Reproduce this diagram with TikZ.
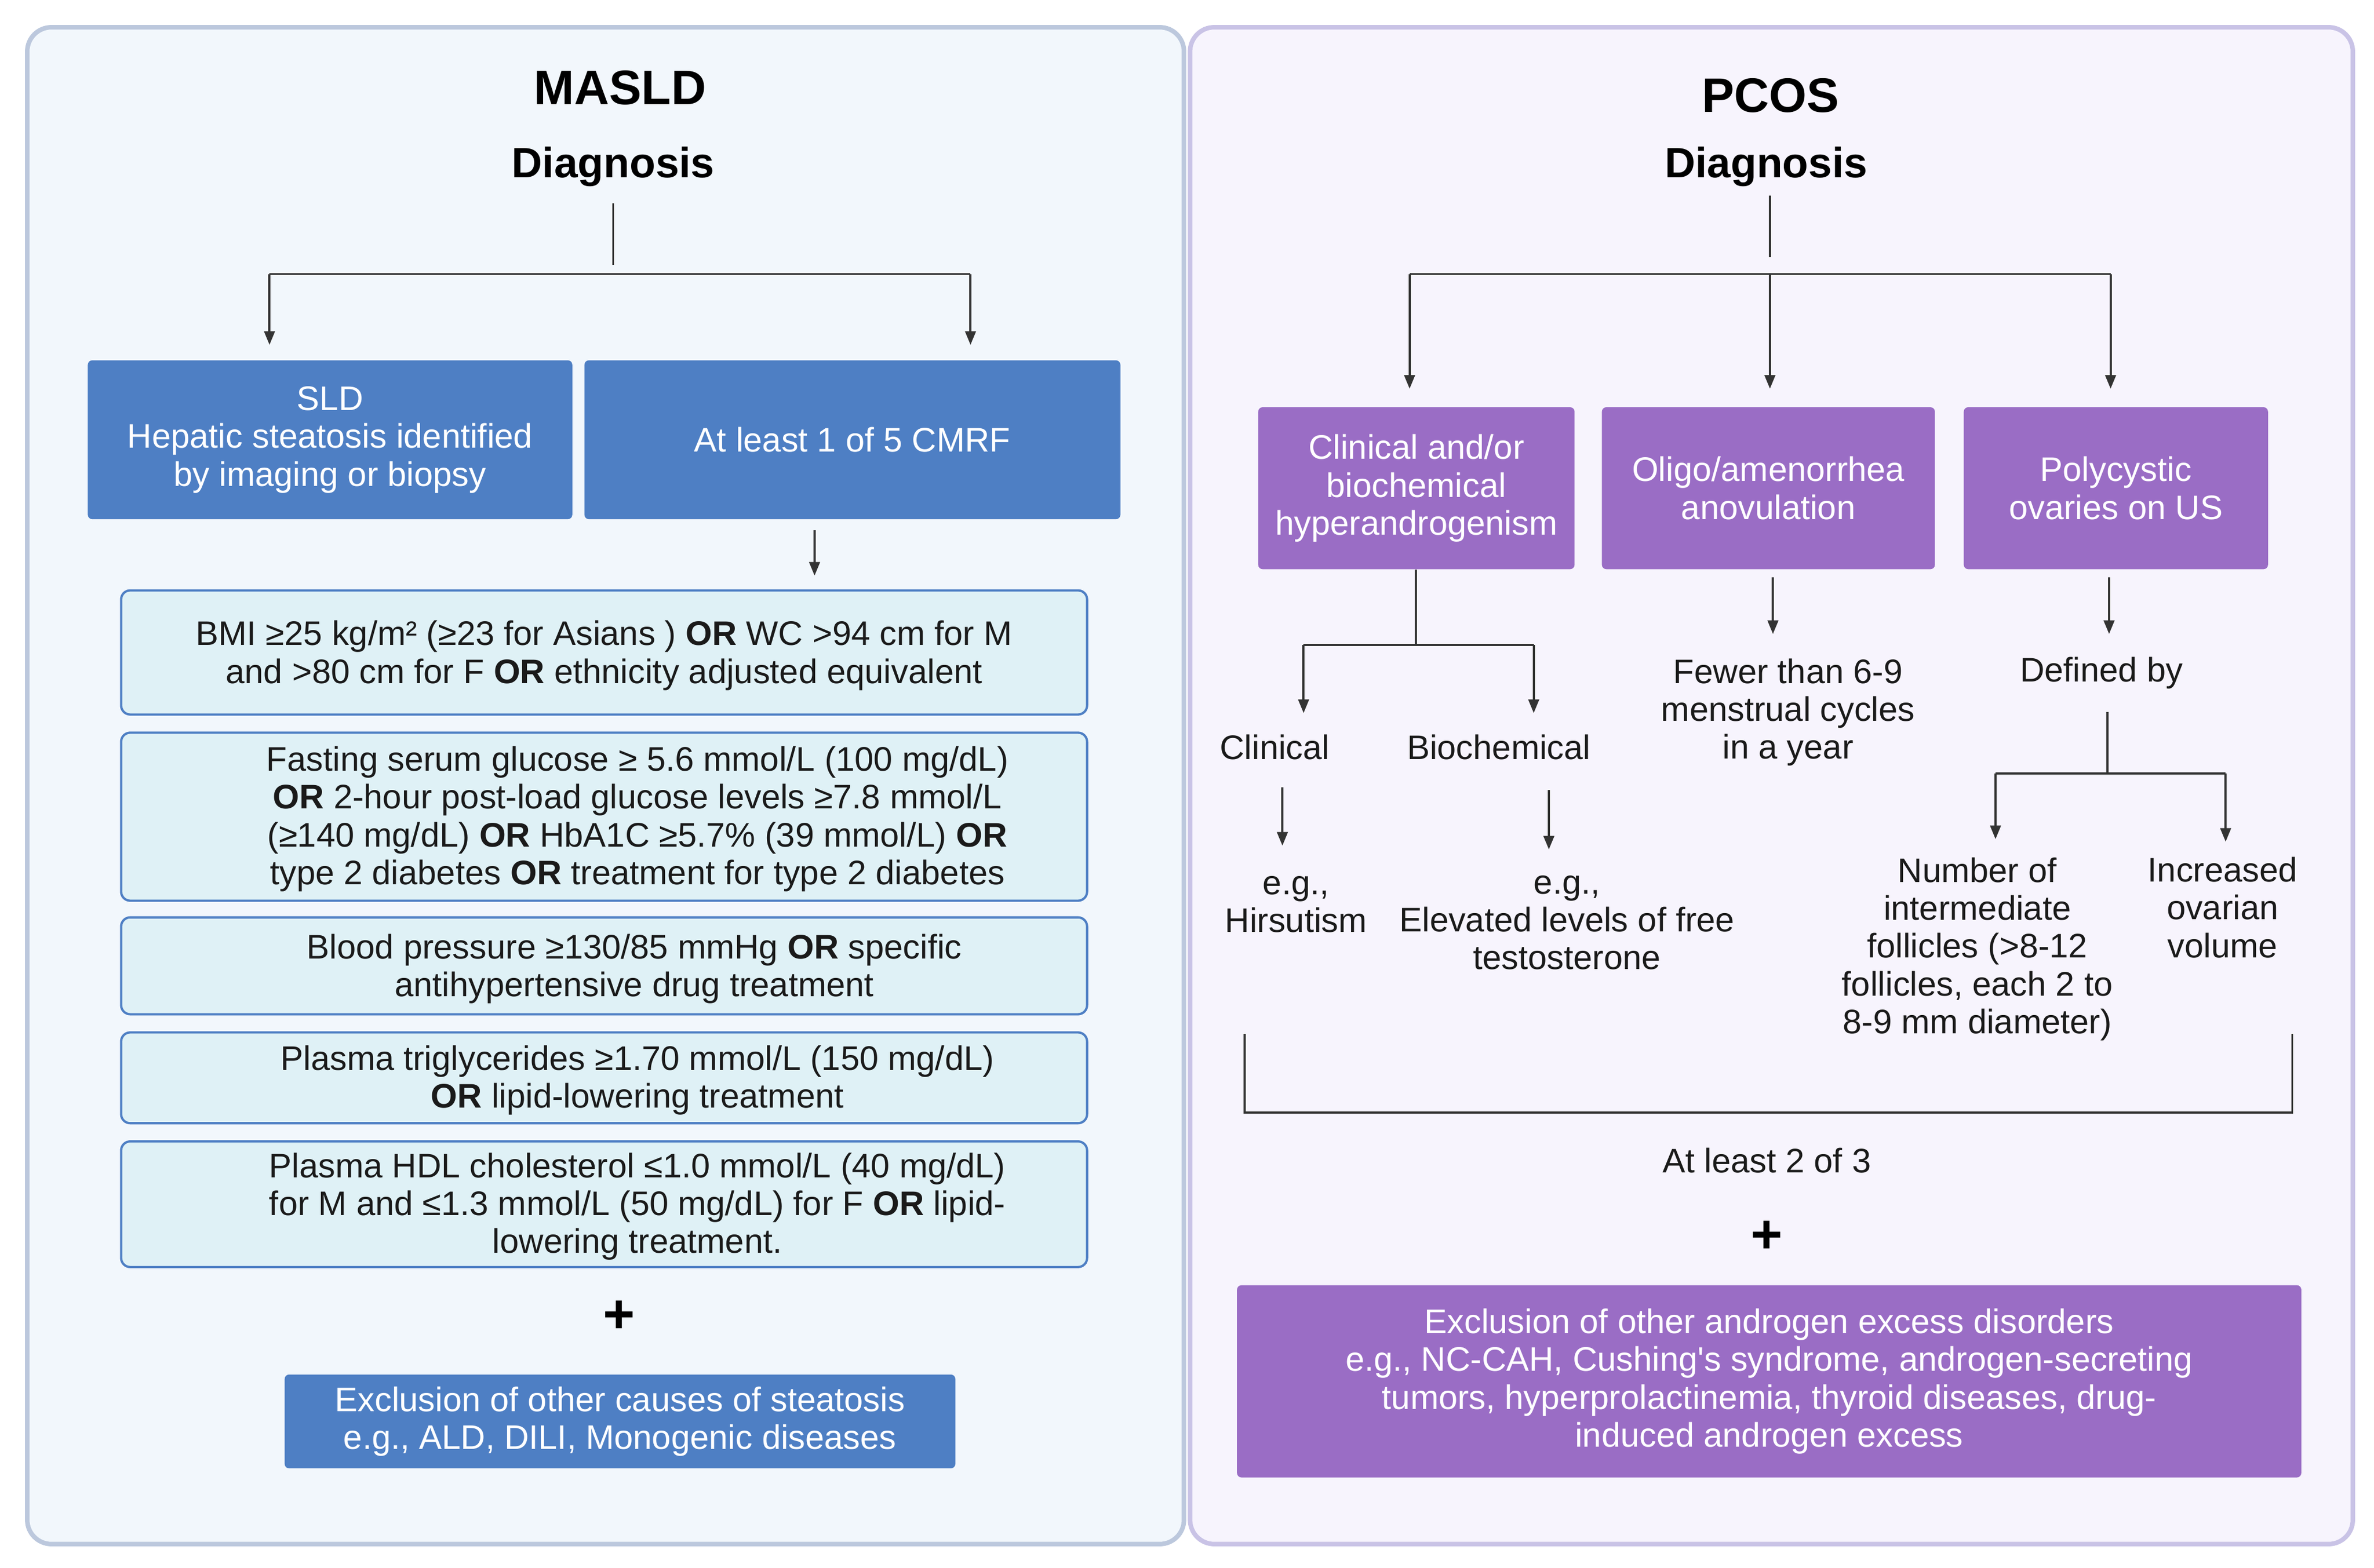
\documentclass[tikz,border=0pt]{standalone}
\usepackage{fontspec}
\setmainfont{Liberation Sans}
\usetikzlibrary{arrows.meta,calc}
\definecolor{boxblue}{HTML}{4E7FC4}
\definecolor{boxpurple}{HTML}{9A6DC5}
\definecolor{critfill}{HTML}{DFF1F6}
\definecolor{panelLfill}{HTML}{F2F7FC}
\definecolor{panelLdraw}{HTML}{BCC8DD}
\definecolor{panelRfill}{HTML}{F7F4FD}
\definecolor{panelRdraw}{HTML}{C9C3E6}
\definecolor{linecol}{HTML}{333333}
\definecolor{textcol}{HTML}{1A1A1A}
\tikzset{
  base/.style={font=\fontsize{22.5}{25}\selectfont, align=center, inner sep=0pt},
  panelL/.style={draw=panelLdraw, line width=3pt, fill=panelLfill, rounded corners=16pt, minimum width=764pt, minimum height=1002pt, inner sep=0pt},
  panelR/.style={draw=panelRdraw, line width=3pt, fill=panelRfill, rounded corners=16pt, minimum width=768pt, minimum height=1002pt, inner sep=0pt},
  titlefont/.style={font=\fontsize{32}{36}\selectfont\bfseries, text=black, inner sep=0pt},
  subtitlefont/.style={font=\fontsize{28}{32}\selectfont\bfseries, text=black, inner sep=0pt},
  bbox/.style={base, fill=boxblue, text=white, rounded corners=3pt},
  pbox/.style={base, fill=boxpurple, text=white, rounded corners=3pt},
  crit/.style={draw=boxblue, line width=1.5pt, fill=critfill, rounded corners=6pt, minimum width=638pt, inner sep=0pt},
  lbl/.style={base, text=textcol},
  conn/.style={draw=linecol, line width=1.4pt},
  arr/.style={conn, -{Triangle[length=9pt,width=7pt]}},
  plussign/.style={font=\fontsize{36}{40}\selectfont\bfseries, text=black, inner sep=0pt}
}
\begin{document}
\begin{tikzpicture}[x=1pt,y=-1pt]
\useasboundingbox (0,0) rectangle (1568,1035.8);
\fill[white] (0,0) rectangle (1568,1035.8);

% ---------------- Left panel: MASLD ----------------
\node[panelL] (panL) at (400,519) {};
\node[titlefont] (mas) at (409.5,58) {MASLD};
\node[subtitlefont] (diagL) at (405,110) {Diagnosis};

\node[bbox, minimum width=320pt, minimum height=105pt] (sld) at (218,290.5)
  {\rule{0pt}{0pt}\raisebox{-2pt}{\parbox{300pt}{\centering SLD\\Hepatic steatosis identified\\by imaging or biopsy}}};
\node[bbox, minimum width=354pt, minimum height=105pt] (cmrf) at (563,290.5)
  {\raisebox{-2pt}{At least 1 of 5 CMRF}};

\node[crit, minimum height=82pt, label={[lbl, yshift=-2pt]center:{BMI ≥25 kg/m² (≥23 for Asians ) \textbf{OR} WC >94 cm for M\\and >80 cm for F \textbf{OR} ethnicity adjusted equivalent}}] (c1) at (399,431) {};
\node[crit, minimum height=111pt, label={[lbl, xshift=22pt, yshift=-1.5pt]center:{Fasting serum glucose ≥ 5.6 mmol/L (100 mg/dL)\\\textbf{OR} 2-hour post-load glucose levels ≥7.8 mmol/L\\(≥140 mg/dL) \textbf{OR} HbA1C ≥5.7\% (39 mmol/L) \textbf{OR}\\type 2 diabetes \textbf{OR} treatment for type 2 diabetes}}] (c2) at (399,539.5) {};
\node[crit, minimum height=64pt, label={[lbl, xshift=20pt, yshift=-2pt]center:{Blood pressure ≥130/85 mmHg \textbf{OR} specific\\antihypertensive drug treatment}}] (c3) at (399,638) {};
\node[crit, minimum height=60pt, label={[lbl, xshift=22pt, yshift=-1.5pt]center:{Plasma triglycerides ≥1.70 mmol/L (150 mg/dL)\\\textbf{OR} lipid-lowering treatment}}] (c4) at (399,712) {};
\node[crit, minimum height=83pt, label={[lbl, xshift=22pt, yshift=-1.5pt]center:{Plasma HDL cholesterol ≤1.0 mmol/L (40 mg/dL)\\for M and ≤1.3 mmol/L (50 mg/dL) for F \textbf{OR} lipid-\\lowering treatment.}}] (c5) at (399,795.5) {};

\node[plussign] (plusL) at (409,870) {+};
\node[bbox, minimum width=443pt, minimum height=62pt] (exL) at (409.5,939)
  {Exclusion of other causes of steatosis\\e.g., ALD, DILI, Monogenic diseases};

% connectors left
\coordinate (jL) at (405,175);
\coordinate (hL1) at (178,181);
\coordinate (hL2) at (641,181);
\coordinate (aL) at (538,0);
\draw[conn, shorten <=11pt] (diagL.south) -- (jL);
\draw[conn] (hL1) -- (hL2);
\draw[arr, shorten >=10pt] (hL1) -- (hL1 |- sld.north);
\draw[arr, shorten >=10pt] (hL2) -- (hL2 |- cmrf.north);
\draw[arr, shorten <=7pt, shorten >=9pt] (cmrf.south -| aL) -- (c1.north -| aL);

% ---------------- Right panel: PCOS ----------------
\node[panelR] (panR) at (1170,519) {};
\node[titlefont] (pcos) at (1169.5,63) {PCOS};
\node[subtitlefont] (diagR) at (1166.5,110) {Diagnosis};

\node[pbox, minimum width=209pt, minimum height=107pt] (p1) at (935.5,322.5)
  {\raisebox{-2pt}{\parbox{200pt}{\centering Clinical and/or\\biochemical\\hyperandrogenism}}};
\node[pbox, minimum width=220pt, minimum height=107pt] (p2) at (1168,322.5)
  {\raisebox{-2pt}{\parbox{210pt}{\centering Oligo/amenorrhea\\anovulation}}};
\node[pbox, minimum width=201pt, minimum height=107pt] (p3) at (1397.5,322.5)
  {\raisebox{-2pt}{\parbox{190pt}{\centering Polycystic\\ovaries on US}}};

\node[lbl] (clin) at (842,493.5) {Clinical};
\node[lbl] (bio) at (990,493.5) {Biochemical};
\node[lbl] (hirs) at (856,597.5) {e.g.,\\Hirsutism};
\node[lbl] (testo) at (1035,609.5) {e.g.,\\Elevated levels of free\\testosterone};
\node[lbl] (fewer) at (1181,470.5) {Fewer than 6-9\\menstrual cycles\\in a year};
\node[lbl] (defby) at (1388,444.5) {Defined by};
\node[lbl] (numf) at (1306,627) {Number of\\intermediate\\follicles (>8-12\\follicles, each 2 to\\8-9 mm diameter)};
\node[lbl] (incr) at (1468,599.5) {Increased\\ovarian\\volume};
\node[lbl] (atl) at (1167,766.5) {At least 2 of 3};
\node[plussign] (plusR) at (1167,817) {+};
\node[pbox, minimum width=703pt, minimum height=127pt] (exR) at (1168.5,912.5)
  {Exclusion of other androgen excess disorders\\e.g., NC-CAH, Cushing\textquotesingle s syndrome, androgen-secreting\\tumors, hyperprolactinemia, thyroid diseases, drug-\\induced androgen excess};

% connectors right
\coordinate (jR) at (1169,170);
\coordinate (hR1) at (931,181);
\coordinate (hR2) at (1169,181);
\coordinate (hR3) at (1394,181);
\draw[conn, shorten <=6pt] (diagR.south -| jR) -- (jR);
\draw[conn] (hR1) -- (hR3);
\draw[arr, shorten >=12pt] (hR1) -- (hR1 |- p1.north);
\draw[arr, shorten >=12pt] (hR2) -- (hR2 |- p2.north);
\draw[arr, shorten >=12pt] (hR3) -- (hR3 |- p3.north);

\coordinate (jc) at (935,426);
\coordinate (jc1) at (861,426);
\coordinate (jc2) at (1013,426);
\draw[conn] (p1.south -| jc) -- (jc);
\draw[conn] (jc1) -- (jc2);
\draw[arr, shorten >=14pt] (jc1) -- (jc1 |- clin.north);
\draw[arr, shorten >=14pt] (jc2) -- (jc2 |- bio.north);

\coordinate (ac) at (847,0);
\coordinate (ab) at (1023,0);
\draw[arr, shorten <=18pt, shorten >=20pt] (clin.south -| ac) -- (hirs.north -| ac);
\draw[arr, shorten <=20pt, shorten >=17pt] (bio.south -| ab) -- (testo.north -| ab);

\coordinate (af) at (1171,0);
\coordinate (ad) at (1393,0);
\draw[arr, shorten <=5pt, shorten >=16pt] (p2.south -| af) -- (fewer.north -| af);
\draw[arr, shorten <=5pt, shorten >=15pt] (p3.south -| ad) -- (defby.north -| ad);

\coordinate (jd) at (1392,511);
\coordinate (jd1) at (1318,511);
\coordinate (jd2) at (1470,511);
\draw[conn, shorten <=15pt] (defby.south -| jd) -- (jd);
\draw[conn] (jd1) -- (jd2);
\draw[arr, shorten >=12pt] (jd1) -- (jd1 |- numf.north);
\draw[arr, shorten >=10pt] (jd2) -- (jd2 |- incr.north);

\coordinate (br1) at (822,683);
\coordinate (br2) at (822,735);
\coordinate (br3) at (1514,735);
\coordinate (br4) at (1514,683);
\draw[conn] (br1) -- (br2) -- (br3) -- (br4);
\end{tikzpicture}
\end{document}
